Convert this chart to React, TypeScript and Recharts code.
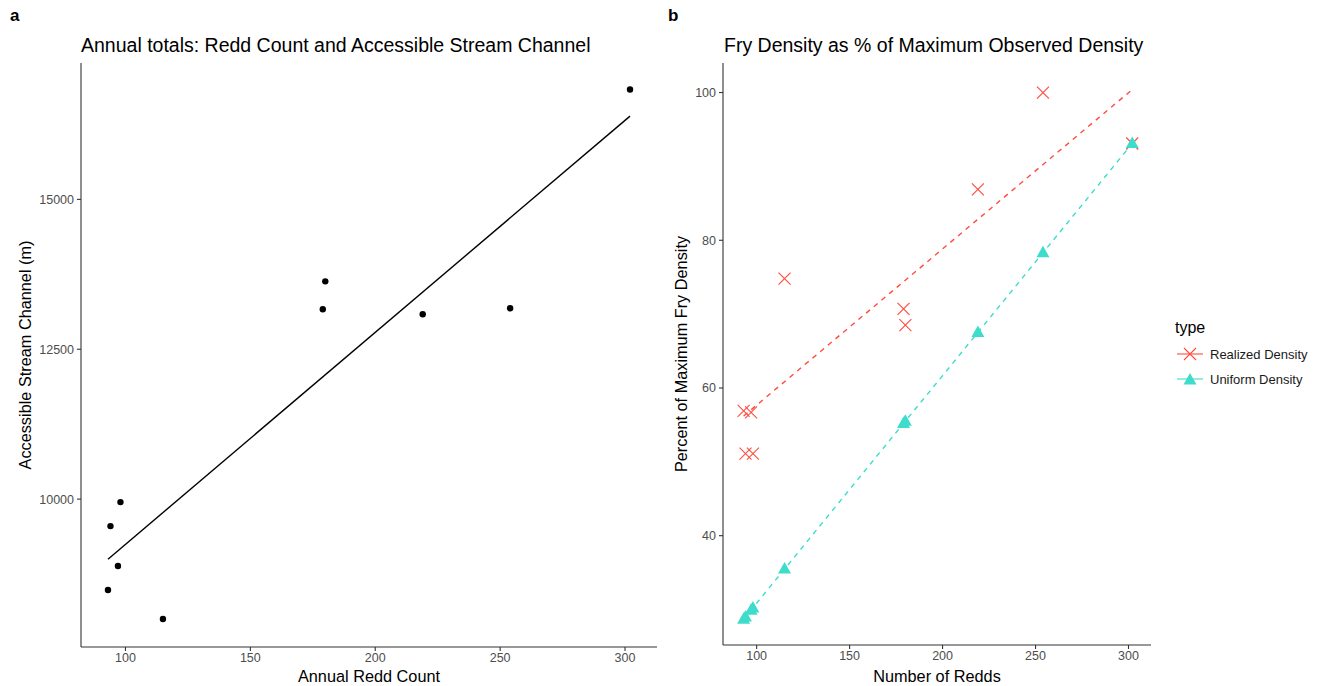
import React from 'react';
import { ScatterChart, Scatter, XAxis, YAxis, ReferenceLine } from 'recharts';

// shared x values (annual redd counts)
const reddCounts = [93, 94, 97, 98, 115, 179, 180, 219, 254, 302];
// panel a
const streamChannel = [8483, 9550, 8883, 9950, 8000, 13167, 13633, 13083, 13183, 16833];
const streamFit = [
  { x: 93, y: 8997 },
  { x: 302, y: 16389 },
];
// panel b
const realizedPct = [56.9, 51.1, 56.7, 51.1, 74.8, 70.7, 68.5, 86.9, 100, 93.1];
const uniformPct = [28.7, 29.0, 29.9, 30.2, 35.5, 55.2, 55.5, 67.5, 78.3, 93.1];
const realizedFit = [
  { x: 93, y: 56.2 },
  { x: 302, y: 100.4 },
];
const uniformFit = [
  { x: 93, y: 28.7 },
  { x: 302, y: 93.1 },
];
const xTicks = [100, 150, 200, 250, 300];
const streamTicks = [10000, 12500, 15000];
const pctTicks = [40, 60, 80, 100];

const FONT = '"Liberation Sans", Arial, Helvetica, sans-serif';
const RED = '#FF4B3E';
const TEAL = '#3DDCCB';
const AXIS = '#333333';

const pointsA = reddCounts.map((x, i) => ({ x, y: streamChannel[i] }));
const realizedPts = reddCounts.map((x, i) => ({ x, y: realizedPct[i] }));
const uniformPts = reddCounts.map((x, i) => ({ x, y: uniformPct[i] }));

const tickStyle = { fontSize: 12.5, fill: '#4D4D4D', fontFamily: FONT };

const Dot = (props: any) => {
  const { cx, cy } = props;
  if (cx == null || cy == null) return null;
  return <circle cx={cx} cy={cy} r={3.2} fill="#000" />;
};

const CrossMark = ({ cx, cy, s = 6 }: { cx: number; cy: number; s?: number }) => (
  <g stroke={RED} strokeWidth={1.1}>
    <line x1={cx - s} y1={cy - s} x2={cx + s} y2={cy + s} />
    <line x1={cx - s} y1={cy + s} x2={cx + s} y2={cy - s} />
  </g>
);

const TriMark = ({ cx, cy }: { cx: number; cy: number }) => (
  <polygon points={`${cx},${cy - 7} ${cx + 6.5},${cy + 4.5} ${cx - 6.5},${cy + 4.5}`} fill={TEAL} />
);

const Cross = (props: any) => {
  const { cx, cy } = props;
  if (cx == null || cy == null) return null;
  return <CrossMark cx={cx} cy={cy} />;
};

const Tri = (props: any) => {
  const { cx, cy } = props;
  if (cx == null || cy == null) return null;
  return <TriMark cx={cx} cy={cy} />;
};

const axisLine = { stroke: AXIS, strokeWidth: 1.1 };
const tickLine = { stroke: AXIS, strokeWidth: 1.1 };

export default function App() {
  return (
    <div style={{ position: 'absolute', left: 0, top: 0, width: 1323, height: 686, background: '#fff', fontFamily: FONT }}>
      <div style={{ position: 'absolute', left: 0, top: 0 }}>
        <ScatterChart width={657} height={686} margin={{ top: 63, right: 0, bottom: 0, left: 0 }}>
          <XAxis
            type="number"
            dataKey="x"
            domain={[82.2, 312.8]}
            ticks={xTicks}
            allowDataOverflow
            height={39}
            tickSize={4}
            tickMargin={2}
            axisLine={axisLine}
            tickLine={tickLine}
            tick={tickStyle}
          />
          <YAxis
            type="number"
            dataKey="y"
            domain={[7533, 17275]}
            ticks={streamTicks}
            allowDataOverflow
            width={81}
            tickSize={4}
            tickMargin={3}
            axisLine={axisLine}
            tickLine={tickLine}
            tick={tickStyle}
          />
          <ReferenceLine segment={streamFit} stroke="#000" strokeWidth={1.4} ifOverflow="visible" />
          <Scatter data={pointsA} shape={Dot} isAnimationActive={false} />
        </ScatterChart>
      </div>
      <div style={{ position: 'absolute', left: 660, top: 0 }}>
        <ScatterChart width={491} height={686} margin={{ top: 63, right: 0, bottom: 0, left: 0 }}>
          <XAxis
            type="number"
            dataKey="x"
            domain={[81.9, 312.1]}
            ticks={xTicks}
            allowDataOverflow
            height={41}
            tickSize={4}
            tickMargin={2}
            axisLine={axisLine}
            tickLine={tickLine}
            tick={tickStyle}
          />
          <YAxis
            type="number"
            dataKey="y"
            domain={[25.2, 104.0]}
            ticks={pctTicks}
            allowDataOverflow
            width={63}
            tickSize={4}
            tickMargin={3}
            axisLine={axisLine}
            tickLine={tickLine}
            tick={tickStyle}
          />
          <ReferenceLine segment={realizedFit} stroke={RED} strokeWidth={1.4} strokeDasharray="5 5" ifOverflow="visible" />
          <ReferenceLine segment={uniformFit} stroke={TEAL} strokeWidth={1.4} strokeDasharray="5 5" ifOverflow="visible" />
          <Scatter data={realizedPts} shape={Cross} isAnimationActive={false} />
          <Scatter data={uniformPts} shape={Tri} isAnimationActive={false} />
        </ScatterChart>
      </div>
      <svg width={1323} height={686} style={{ position: 'absolute', left: 0, top: 0, pointerEvents: 'none' }}>
        <g fontFamily={FONT}>
          <text x={10} y={21} fontSize={17} fontWeight="bold">a</text>
          <text x={668} y={21} fontSize={17} fontWeight="bold">b</text>
          <text x={81} y={52} fontSize={19.5}>Annual totals: Redd Count and Accessible Stream Channel</text>
          <text x={724} y={52} fontSize={19.5}>Fry Density as % of Maximum Observed Density</text>
          <text x={369} y={682} fontSize={16.3} textAnchor="middle">Annual Redd Count</text>
          <text x={937} y={682} fontSize={16.3} textAnchor="middle">Number of Redds</text>
          <text x={31} y={355} fontSize={16.3} textAnchor="middle" transform="rotate(-90 31 355)">
            Accessible Stream Channel (m)
          </text>
          <text x={687} y={354} fontSize={16.3} textAnchor="middle" transform="rotate(-90 687 354)">
            Percent of Maximum Fry Density
          </text>
          <text x={1175} y={333} fontSize={16}>type</text>
          <line x1={1177} y1={354} x2={1203} y2={354} stroke={RED} strokeWidth={1.1} />
          <CrossMark cx={1190} cy={354} />
          <line x1={1177} y1={379} x2={1203} y2={379} stroke={TEAL} strokeWidth={1.1} />
          <TriMark cx={1190} cy={380} />
          <text x={1210} y={358.5} fontSize={13} fill="#1A1A1A">Realized Density</text>
          <text x={1210} y={383.5} fontSize={13} fill="#1A1A1A">Uniform Density</text>
        </g>
      </svg>
    </div>
  );
}
